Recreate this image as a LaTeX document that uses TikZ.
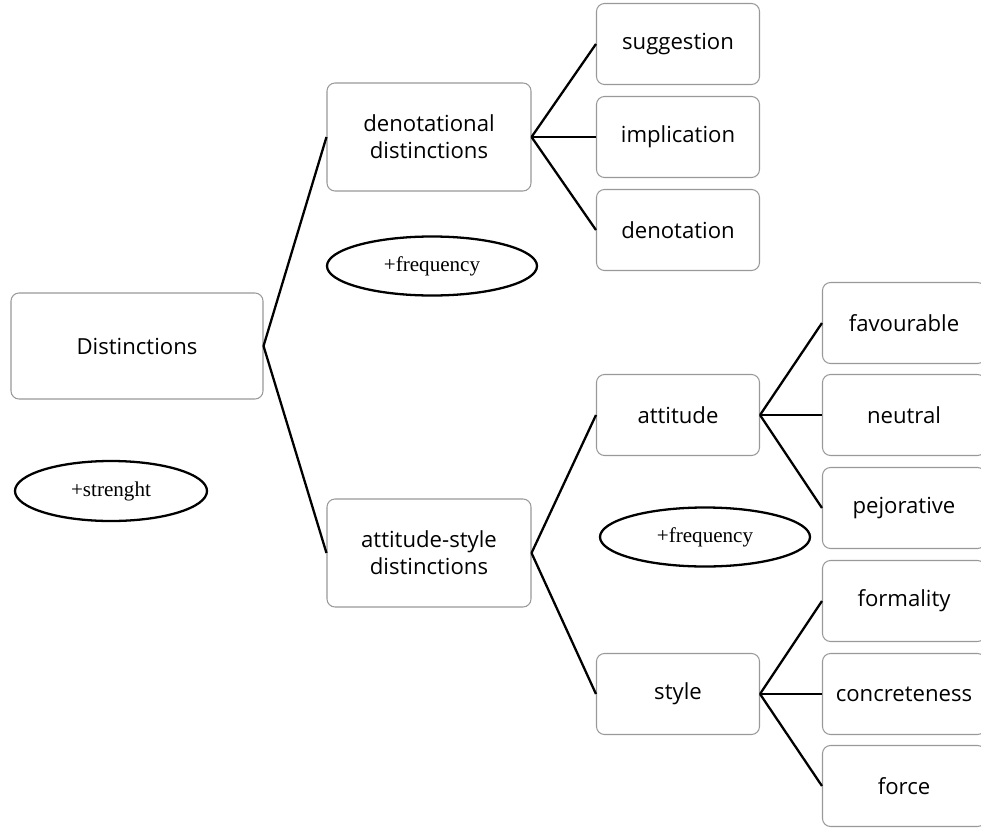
\documentclass[tikz,border=0pt]{standalone}
\usepackage{fontspec}
\setmainfont{Open Sans}
\newfontfamily\notefont{Liberation Serif}
\usetikzlibrary{shapes.geometric}
\tikzset{
  box/.style={draw=gray!80, line width=0.6pt, rounded corners=1.6mm, fill=white,
    align=center, inner sep=0pt, font=\fontsize{12.6}{15.5}\selectfont},
  midbox/.style={box, minimum width=40.8mm, minimum height=21.6mm},
  leafbox/.style={box, minimum width=32.6mm, minimum height=16.2mm},
  note/.style={ellipse, draw, line width=1.3pt, inner sep=0pt,
    minimum width=42mm, minimum height=11.8mm, font=\notefont\fontsize{12}{14}\selectfont},
  link/.style={line width=1.3pt},
}

\begin{document}
\begin{tikzpicture}[x=0.2mm, y=-0.2mm]
\useasboundingbox[fill=white] (0,0) rectangle (981,828);
% root and second level
\node[box, minimum width=50.4mm, minimum height=21.2mm] (dist) at (137,346) {Distinctions};
\node[midbox] (den) at (429,137) {denotational\\distinctions};
\node[midbox] (attsty) at (429,553) {attitude-style\\distinctions};
% third level
\node[leafbox] (sug) at (678,44) {suggestion};
\node[leafbox] (imp) at (678,137) {implication};
\node[leafbox] (dnt) at (678,230) {denotation};
\node[leafbox] (att) at (678,415) {attitude};
\node[leafbox] (sty) at (678,694) {style};
% fourth level
\node[leafbox] (fav) at (904,323) {favourable};
\node[leafbox] (neu) at (904,415) {neutral};
\node[leafbox] (pej) at (904,508) {pejorative};
\node[leafbox] (frm) at (904,601) {formality};
\node[leafbox] (con) at (904,694) {concreteness};
\node[leafbox] (frc) at (904,786) {force};
% notes
\node[note] (freqden) at (432,266) {+frequency};
\node[note] (freqatt) at (705,537) {+frequency};
\node[note, minimum width=38.4mm, minimum height=12mm] (strength) at (111,491) {+strenght};
% connectors
\draw[link] (dist.east) -- (den.west);
\draw[link] (dist.east) -- (attsty.west);
\foreach \leaf in {sug,imp,dnt}
\draw[link] (den.east) -- (\leaf.west);
\draw[link] (attsty.east) -- (att.west);
\draw[link] (attsty.east) -- (sty.west);
\foreach \leaf in {fav,neu,pej}
\draw[link] (att.east) -- (\leaf.west);
\foreach \leaf in {frm,con,frc}
\draw[link] (sty.east) -- (\leaf.west);
\end{tikzpicture}
\end{document}
